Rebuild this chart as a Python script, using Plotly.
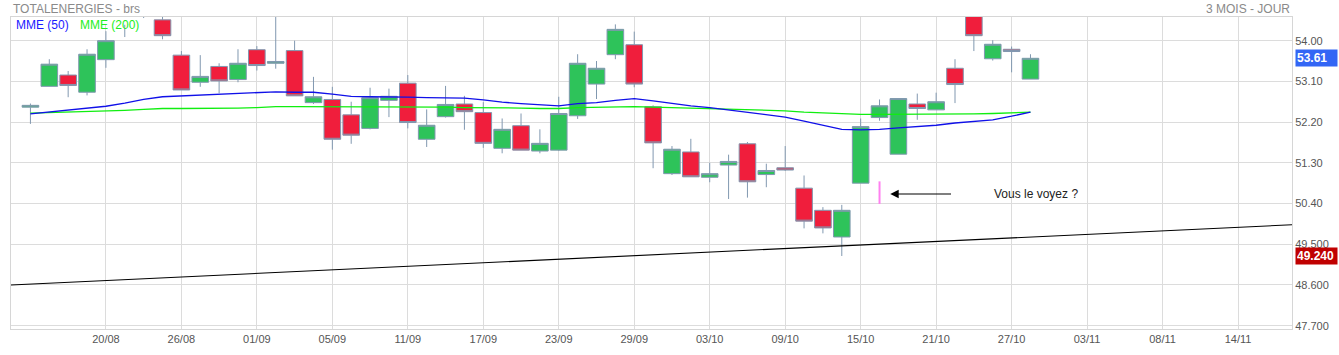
import plotly.graph_objects as go

# ---------------- data ----------------
day_index = list(range(54))
opens = [52.53, 52.99, 53.24, 52.86, 53.58, 54.55, 54.70, 54.46, 53.68, 53.08,
         53.43, 53.14, 53.80, 53.50, 53.78, 52.63, 52.70, 52.36, 52.06, 52.68,
         53.06, 51.82, 52.32, 52.60, 52.41, 51.62, 52.12, 51.56, 51.58, 52.34,
         53.04, 53.69, 53.91, 52.54, 51.06, 51.54, 50.98, 51.25, 51.72, 51.04,
         51.19, 50.74, 50.25, 49.66, 50.85, 52.30, 51.49, 52.60, 52.47, 53.39,
         54.65, 53.60, 53.81, 53.15]
highs = [52.61, 53.59, 53.33, 53.81, 54.21, 55.00, 55.10, 54.60, 53.77, 53.68,
         53.50, 53.81, 53.88, 54.60, 54.00, 53.20, 52.98, 52.65, 52.96, 52.94,
         53.24, 52.48, 53.00, 52.78, 52.64, 52.28, 52.39, 52.04, 52.76, 53.70,
         53.55, 54.36, 54.20, 52.57, 51.67, 51.83, 51.30, 51.48, 51.76, 51.28,
         51.67, 51.02, 50.32, 50.37, 52.28, 52.70, 52.72, 52.83, 52.85, 53.59,
         54.70, 54.01, 53.87, 53.70]
lows = [52.16, 52.99, 52.75, 52.79, 53.40, 54.08, 54.50, 54.03, 52.91, 52.98,
        52.84, 53.08, 53.34, 53.38, 52.78, 52.60, 51.59, 51.72, 52.04, 52.31,
        52.06, 51.65, 52.30, 52.03, 51.63, 51.51, 51.58, 51.51, 51.56, 52.27,
        52.71, 53.59, 52.97, 51.18, 51.03, 50.99, 50.87, 50.50, 50.53, 50.76,
        51.12, 49.85, 49.74, 49.24, 50.85, 52.23, 51.49, 52.25, 52.47, 52.62,
        53.77, 53.56, 53.30, 53.15]
closes = [52.57, 53.48, 53.01, 53.70, 54.00, 54.90, 55.00, 54.11, 52.91, 53.21,
          53.11, 53.50, 53.45, 53.54, 52.78, 52.76, 51.82, 51.91, 52.74, 52.77,
          52.19, 52.13, 52.59, 52.43, 51.73, 52.04, 51.58, 51.73, 52.39, 53.50,
          53.39, 54.25, 53.04, 51.74, 51.60, 50.99, 51.06, 51.33, 50.88, 51.13,
          51.14, 50.01, 49.86, 50.25, 52.10, 52.56, 52.72, 52.50, 52.65, 53.03,
          54.11, 53.92, 53.76, 53.61]

mme50 = [52.38, 52.42, 52.46, 52.50, 52.55, 52.62, 52.70, 52.76, 52.78, 52.79,
         52.81, 52.83, 52.85, 52.87, 52.86, 52.86, 52.82, 52.77, 52.76, 52.76,
         52.75, 52.74, 52.74, 52.73, 52.69, 52.64, 52.61, 52.58, 52.56, 52.61,
         52.63, 52.68, 52.72, 52.67, 52.61, 52.56, 52.52, 52.47, 52.42, 52.36,
         52.31, 52.22, 52.13, 52.04, 52.03, 52.04, 52.07, 52.10, 52.13, 52.18,
         52.22, 52.25, 52.33, 52.42]
mme200 = [52.40, 52.41, 52.42, 52.43, 52.44, 52.46, 52.48, 52.50, 52.50, 52.50,
          52.51, 52.51, 52.52, 52.54, 52.54, 52.54, 52.54, 52.54, 52.53, 52.53,
          52.53, 52.53, 52.53, 52.52, 52.52, 52.51, 52.51, 52.50, 52.50, 52.52,
          52.53, 52.54, 52.54, 52.53, 52.52, 52.51, 52.50, 52.49, 52.48, 52.47,
          52.45, 52.42, 52.40, 52.38, 52.37, 52.37, 52.37, 52.37, 52.37, 52.38,
          52.38, 52.39, 52.40, 52.42]

trend_x = [-1.03, 66.86]
trend_y = [48.60, 49.93]

marker_x = [45, 45]
marker_y = [50.89, 50.39]

tick_positions = [4, 8, 12, 16, 20, 24, 28, 32, 36, 40, 44, 48, 52, 56, 60, 64]
tick_labels = ["20/08", "26/08", "01/09", "05/09", "11/09", "17/09", "23/09", "29/09",
               "03/10", "09/10", "15/10", "21/10", "27/10", "03/11", "08/11", "14/11"]

y_ticks = [54.00, 53.10, 52.20, 51.30, 50.40, 49.50, 48.60, 47.70]
y_tick_labels = ["54.00", "53.10", "52.20", "51.30", "50.40", "49.500", "48.600", "47.700"]

low_label_value = 49.24
arrow_head_x, arrow_tail_x, arrow_y = 45.57, 48.87, 50.61
note_x = 50.97

# ---------------- figure ----------------
FONT = "Liberation Sans, Arial, sans-serif"
X_RANGE = [-1.03, 66.86]
Y_RANGE = [47.626, 54.523]

fig = go.Figure()

fig.add_trace(go.Candlestick(
    x=day_index, open=opens, high=highs, low=lows, close=closes,
    increasing=dict(fillcolor="#2ec35a", line=dict(color="#8198b0", width=1)),
    decreasing=dict(fillcolor="#f01e3c", line=dict(color="#8198b0", width=1)),
    whiskerwidth=0, showlegend=False, hoverinfo="skip",
))

fig.add_trace(go.Scatter(x=day_index, y=mme200, mode="lines",
                         line=dict(color="#10ee10", width=1.3), showlegend=False, hoverinfo="skip"))
fig.add_trace(go.Scatter(x=day_index, y=mme50, mode="lines",
                         line=dict(color="#1010e8", width=1.3), showlegend=False, hoverinfo="skip"))
fig.add_trace(go.Scatter(x=trend_x, y=trend_y, mode="lines",
                         line=dict(color="#000000", width=1.1), showlegend=False, hoverinfo="skip"))
fig.add_trace(go.Scatter(x=marker_x, y=marker_y, mode="lines",
                         line=dict(color="#ff80f0", width=2), showlegend=False, hoverinfo="skip"))

annotations = [
    dict(text="TOTALENERGIES - brs", xref="paper", yref="paper", x=0, y=1,
         xanchor="left", yanchor="bottom", yshift=-1, showarrow=False,
         font=dict(family=FONT, size=12, color="#8a8a8a")),
    dict(text="3 MOIS - JOUR", xref="paper", yref="paper", x=1, y=1,
         xanchor="right", yanchor="bottom", yshift=-1, showarrow=False,
         font=dict(family=FONT, size=12, color="#8a8a8a")),
    dict(text="MME (50)", xref="paper", yref="paper", x=0, y=1, xshift=3, yshift=-8,
         xanchor="left", yanchor="middle", showarrow=False,
         font=dict(family=FONT, size=12, color="#1a1aff")),
    dict(text="MME (200)", xref="paper", yref="paper", x=0, y=1, xshift=67, yshift=-8,
         xanchor="left", yanchor="middle", showarrow=False,
         font=dict(family=FONT, size=12, color="#22ee22")),
    dict(text="<b>%.2f</b>" % closes[-1], xref="paper", yref="y", x=1, y=closes[-1],
         xanchor="left", yanchor="middle", xshift=3, showarrow=False,
         bgcolor="#3366f5", width=39, align="left", borderpad=1,
         font=dict(family=FONT, size=12, color="#ffffff")),
    dict(text="<b>%.3f</b>" % low_label_value, xref="paper", yref="y", x=1, y=low_label_value,
         xanchor="left", yanchor="middle", xshift=3, showarrow=False,
         bgcolor="#c00000", width=39, align="left", borderpad=1,
         font=dict(family=FONT, size=12, color="#ffffff")),
    dict(text="", x=arrow_head_x, y=arrow_y, ax=arrow_tail_x, ay=arrow_y,
         xref="x", yref="y", axref="x", ayref="y", showarrow=True,
         arrowhead=2, arrowsize=1.4, arrowwidth=1.2, arrowcolor="#000000"),
    dict(text="Vous le voyez ?", x=note_x, y=arrow_y, xref="x", yref="y",
         xanchor="left", yanchor="middle", showarrow=False,
         font=dict(family=FONT, size=12, color="#222222")),
]

fig.update_layout(
    width=1339, height=355,
    margin=dict(l=10, r=46, t=17, b=21),
    paper_bgcolor="#ffffff", plot_bgcolor="#ffffff",
    boxgap=0.12, boxgroupgap=0,
    font=dict(family=FONT, size=11, color="#555555"),
    annotations=annotations,
    shapes=[dict(type="rect", xref="paper", yref="paper", x0=0.05, x1=0.1, y0=0.975, y1=1.0,
                 fillcolor="#ffffff", line=dict(width=0), layer="above")],
    xaxis=dict(range=X_RANGE, tickmode="array", tickvals=tick_positions, ticktext=tick_labels,
               showgrid=True, gridcolor="#dcdcdc", gridwidth=1, zeroline=False,
               showline=True, linecolor="#d6d6d6", mirror=True, ticks="",
               rangeslider=dict(visible=False),
               tickfont=dict(family=FONT, size=11, color="#555555")),
    yaxis=dict(range=Y_RANGE, side="right", tickmode="array", tickvals=y_ticks,
               ticktext=y_tick_labels, showgrid=True, gridcolor="#dcdcdc", gridwidth=1,
               zeroline=False, showline=True, linecolor="#d6d6d6", mirror=True, ticks="",
               tickfont=dict(family=FONT, size=11, color="#555555")),
)

fig.write_html("out.html")
